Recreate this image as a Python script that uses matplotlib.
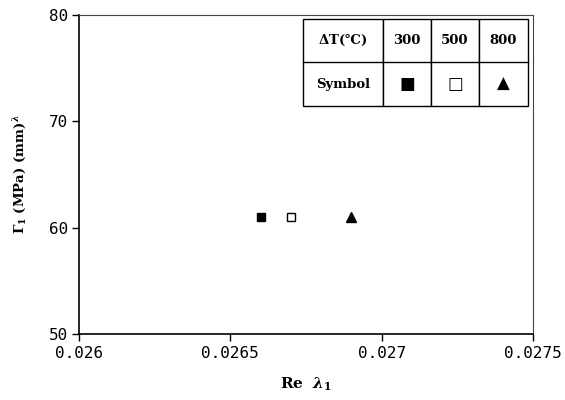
import matplotlib
matplotlib.use("Agg")
import matplotlib.pyplot as plt

# data
temps = ["300", "500", "800"]
re_lambda = [0.0266, 0.0267, 0.0269]
gamma = [61.0, 61.0, 61.0]
markers = ["s", "s", "^"]
facecolors = ["black", "white", "black"]
symbols = ["\u25A0", "\u25A1", "\u25B2"]
xticks = [0.026, 0.0265, 0.027, 0.0275]
xticklabels = ["0.026", "0.0265", "0.027", "0.0275"]
yticks = [50, 60, 70, 80]

plt.rcParams["mathtext.fontset"] = "custom"
plt.rcParams["mathtext.rm"] = "DejaVu Serif:bold"
plt.rcParams["mathtext.it"] = "DejaVu Serif:italic:bold"
plt.rcParams["mathtext.bf"] = "DejaVu Serif:bold"

fig = plt.figure(figsize=(5.65, 4.0), dpi=100)
ax = fig.add_axes([79/565, 66/400, 454/565, 319/400])

for x, y, m, fc in zip(re_lambda, gamma, markers, facecolors):
    ax.plot([x], [y], marker=m, markersize=5.5 if m == "s" else 6.5,
            markerfacecolor=fc, markeredgecolor="black", markeredgewidth=1.0,
            linestyle="none")

ax.set_xlim(0.026, 0.0275)
ax.set_ylim(50, 80)
ax.set_xticks(xticks)
ax.set_xticklabels(xticklabels)
ax.set_yticks(yticks)
ax.tick_params(direction="out", length=5, width=1, labelsize=11.5,
               top=False, right=False)
ax.tick_params(axis="x", pad=4)
ax.tick_params(axis="y", pad=3)
for lab in ax.get_xticklabels() + ax.get_yticklabels():
    lab.set_family("DejaVu Sans Mono")
for side in ["top", "right"]:
    ax.spines[side].set_linewidth(0.8)
    ax.spines[side].set_color("#444444")
for side in ["left", "bottom"]:
    ax.spines[side].set_linewidth(1.2)

ax.set_xlabel(r"Re  $\lambda_1$", fontsize=11, fontweight="bold",
              family="DejaVu Serif", labelpad=10)
ax.set_ylabel(r"$\mathit{\Gamma}_1$ (MPa) (mm)$^{\lambda}$", fontsize=9.5,
              fontweight="bold", family="DejaVu Serif", labelpad=14)

cell_text = [[r"$\mathit{\Delta}$T(\u2103)".replace("\\u2103", "\u2103")] + temps,
             ["Symbol"] + symbols]
tbl = ax.table(cellText=cell_text, cellLoc="center",
               colWidths=[80, 48, 48, 49],
               bbox=[(303-79)/454, (334-106)/319, (528-303)/454, (106-19)/319])
tbl.auto_set_font_size(False)
for (r, c), cell in tbl.get_celld().items():
    cell.set_linewidth(1.0)
    cell.set_edgecolor("black")
    cell.get_text().set_fontsize(9.5)
    cell.get_text().set_fontweight("bold")
    cell.get_text().set_family("DejaVu Serif")
    if r == 1 and c > 0:
        cell.get_text().set_family("DejaVu Sans")
        cell.get_text().set_fontsize(12)
        cell.get_text().set_fontweight("normal")

fig.savefig("out.png", dpi=100)
